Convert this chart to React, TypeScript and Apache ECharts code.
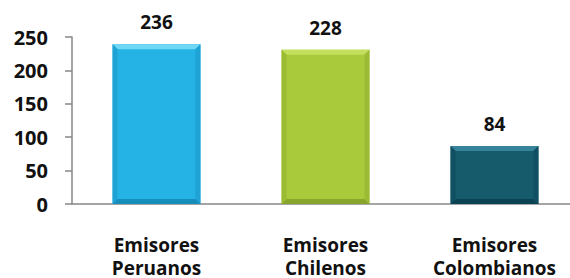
import React, { useEffect, useRef } from "react";
import * as echarts from "echarts";

const categories = ["Emisores\nPeruanos", "Emisores\nChilenos", "Emisores\nColombianos"];
const values = [236, 228, 84];
const baseColors = ["#25B2E5", "#A9CA3B", "#165B6C"];
const topColors = ["#6FD6F4", "#C3DF5E", "#37849A"];
const sideColors = ["#1FA3D5", "#9BBB34", "#115062"];
const bottomColors = ["#178DBB", "#88A52C", "#0C4352"];
const yTicks = [0, 50, 100, 150, 200, 250];

const FONT = "Open Sans";

export default function App() {
  const ref = useRef<HTMLDivElement>(null);
  useEffect(() => {
    if (!ref.current) return;
    const chart = echarts.init(ref.current, null, { renderer: "svg" });
    chart.setOption({
      animation: false,
      grid: { left: 72, top: 37, height: 167, width: 507, outerBoundsMode: "none", containLabel: false },
      xAxis: {
        type: "category",
        data: categories,
        axisLine: { lineStyle: { color: "#878787", width: 1.5 } },
        axisTick: { length: 7, lineStyle: { color: "#878787", width: 1.5 } },
        axisLabel: {
          margin: 29,
          color: "#111",
          fontFamily: FONT,
          fontWeight: "bold",
          fontSize: 19,
          lineHeight: 23,
        },
      },
      yAxis: {
        type: "value",
        min: yTicks[0],
        max: yTicks[yTicks.length - 1],
        interval: 50,
        splitLine: { show: false },
        axisLine: { show: true, lineStyle: { color: "#878787", width: 1.5 } },
        axisTick: { show: true, length: 7, lineStyle: { color: "#878787", width: 1.5 } },
        axisLabel: {
          margin: 24,
          color: "#111",
          fontFamily: FONT,
          fontWeight: "bold",
          fontSize: 20,
        },
      },
      series: [
        {
          type: "custom",
          data: values.map((v, i) => [i, v]),
          renderItem: (params: any, api: any) => {
            const idx = api.value(0);
            const val = api.value(1);
            const top = api.coord([idx, val]);
            const bot = api.coord([idx, 0]);
            const cw = api.size([1, 0])[0];
            const w = cw * 0.52;
            const x = top[0] - w / 2;
            const y = top[1] - 2;
            const h = bot[1] - y;
            const b = 5;
            const i = params.dataIndex;
            return {
              type: "group",
              children: [
                { type: "rect", shape: { x, y, width: w, height: h }, style: { fill: baseColors[i] } },
                {
                  type: "polygon",
                  shape: { points: [[x, y], [x + w, y], [x + w - b, y + b], [x + b, y + b]] },
                  style: { fill: topColors[i] },
                },
                {
                  type: "polygon",
                  shape: { points: [[x, y + h], [x + w, y + h], [x + w - b, y + h - b], [x + b, y + h - b]] },
                  style: { fill: bottomColors[i] },
                },
                {
                  type: "polygon",
                  shape: { points: [[x, y], [x + b, y + b], [x + b, y + h - b], [x, y + h]] },
                  style: { fill: sideColors[i] },
                },
                {
                  type: "polygon",
                  shape: { points: [[x + w, y], [x + w - b, y + b], [x + w - b, y + h - b], [x + w, y + h]] },
                  style: { fill: sideColors[i] },
                },
                {
                  type: "text",
                  x: top[0],
                  y: y - 22,
                  style: {
                    text: String(val),
                    fill: "#111",
                    font: `bold 19px "${FONT}"`,
                    align: "center",
                    verticalAlign: "middle",
                  },
                },
              ],
            };
          },
        },
      ],
    });
    return () => chart.dispose();
  }, []);
  return (
    <div
      ref={ref}
      style={{ position: "absolute", left: 0, top: 0, width: 570, height: 278, background: "#fff" }}
    />
  );
}
